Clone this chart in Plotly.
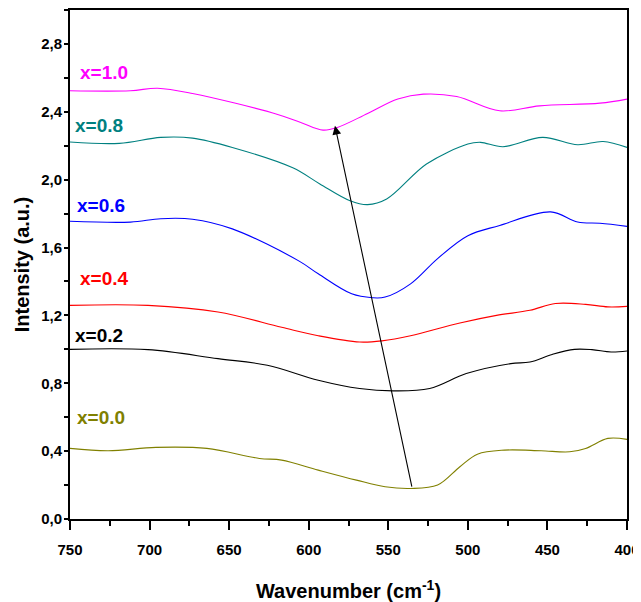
import plotly.graph_objects as go

# ---- data ----
wn_00 = [750, 726, 696, 664, 631, 617, 594, 570, 552, 536, 519, 505, 494, 477, 454, 436, 426, 412, 400]
y_00 = [0.416, 0.402, 0.422, 0.416, 0.357, 0.347, 0.288, 0.229, 0.19, 0.18, 0.2, 0.308, 0.382, 0.406, 0.402, 0.396, 0.416, 0.475, 0.469]

wn_02 = [750, 701, 657, 626, 594, 568, 547, 524, 501, 473, 461, 447, 433, 422, 410, 400]
y_02 = [1.0, 0.998, 0.945, 0.906, 0.818, 0.769, 0.755, 0.769, 0.857, 0.916, 0.925, 0.97, 1.0, 0.998, 0.984, 0.99]

wn_04 = [750, 701, 657, 617, 594, 568, 554, 536, 505, 482, 461, 445, 426, 412, 400]
y_04 = [1.259, 1.259, 1.22, 1.13, 1.08, 1.043, 1.05, 1.08, 1.155, 1.20, 1.23, 1.27, 1.265, 1.25, 1.253]

wn_06 = [750, 712, 693, 673, 648, 606, 594, 573, 560, 552, 536, 519, 500, 480, 448, 431, 417, 400]
y_06 = [1.755, 1.75, 1.77, 1.767, 1.71, 1.52, 1.445, 1.327, 1.304, 1.308, 1.386, 1.535, 1.67, 1.73, 1.81, 1.75, 1.743, 1.725]

wn_08 = [750, 719, 693, 673, 648, 610, 593, 574, 563, 551, 526, 500, 492, 478, 453, 431, 415, 400]
y_08 = [2.222, 2.214, 2.249, 2.245, 2.19, 2.07, 1.975, 1.876, 1.853, 1.886, 2.092, 2.21, 2.22, 2.194, 2.249, 2.206, 2.225, 2.19]

wn_10 = [750, 712, 695, 673, 620, 605, 591, 582, 563, 544, 528, 507, 480, 455, 417, 400]
y_10 = [2.524, 2.524, 2.539, 2.508, 2.386, 2.337, 2.292, 2.308, 2.39, 2.475, 2.504, 2.49, 2.406, 2.435, 2.451, 2.475]

series_names = ["x=0.0", "x=0.2", "x=0.4", "x=0.6", "x=0.8", "x=1.0"]
series_colors = ["#808000", "#000000", "#FF0000", "#0000FF", "#008080", "#FF00FF"]
series_wn = [wn_00, wn_02, wn_04, wn_06, wn_08, wn_10]
series_y = [y_00, y_02, y_04, y_06, y_08, y_10]

# label anchor points (data coordinates)
label_wn = [747, 748, 745, 747, 748, 745]
label_y = [0.60, 1.08, 1.42, 1.85, 2.32, 2.63]

# arrow (tail -> head), data coordinates
arrow_tail = (535, 0.182)
arrow_head = (583.5, 2.318)

y_tickvals = [0.0, 0.4, 0.8, 1.2, 1.6, 2.0, 2.4, 2.8]
y_ticktext = ["0,0", "0,4", "0,8", "1,2", "1,6", "2,0", "2,4", "2,8"]
x_tickvals = [750, 700, 650, 600, 550, 500, 450, 400]

FONT = "Liberation Sans, Arial, sans-serif"

fig = go.Figure()
for name, col, xs, ys in zip(series_names, series_colors, series_wn, series_y):
    fig.add_trace(go.Scatter(x=xs, y=ys, mode="lines", name=name,
                             line=dict(color=col, width=1.1, shape="spline", smoothing=1.0),
                             showlegend=False))

for name, col, lx, ly in zip(series_names, series_colors, label_wn, label_y):
    fig.add_annotation(x=lx, y=ly, xref="x", yref="y", text=name, showarrow=False,
                       xanchor="left", yanchor="middle",
                       font=dict(family=FONT, size=19, color=col, weight="bold"))

fig.add_annotation(x=arrow_head[0], y=arrow_head[1], ax=arrow_tail[0], ay=arrow_tail[1],
                   xref="x", yref="y", axref="x", ayref="y", text="", showarrow=True,
                   arrowhead=2, arrowsize=1.6, arrowwidth=1.1, arrowcolor="black")

fig.update_xaxes(range=[750, 400], tickvals=x_tickvals, ticks="outside", ticklen=9, tickwidth=1.5,
                 tickcolor="black", showline=True, linewidth=2, linecolor="black", mirror=True,
                 showgrid=False, zeroline=False, automargin=False, ticklabeloverflow="allow",
                 minor=dict(ticks="outside", ticklen=5, tickwidth=1.5, tickcolor="black", dtick=25, tick0=400, showgrid=False),
                 tickfont=dict(family=FONT, size=15, color="black", weight="bold"),
                 ticklabelstandoff=7,
                 title=dict(text="Wavenumber (cm<sup>-1</sup>)", standoff=36,
                            font=dict(family=FONT, size=20, color="black", weight="bold")))
fig.update_yaxes(range=[0, 3.0], tickvals=y_tickvals, ticktext=y_ticktext, ticks="",
                 showline=True, linewidth=2, linecolor="black", mirror=True,
                 showgrid=False, zeroline=False, automargin=False,
                 minor=dict(ticks="outside", ticklen=4, tickwidth=1.5, tickcolor="black", dtick=0.2, tick0=0, showgrid=False),
                 tickfont=dict(family=FONT, size=15, color="black", weight="bold"),
                 ticklabelstandoff=3,
                 title=dict(text="Intensity (a.u.)", standoff=6,
                            font=dict(family=FONT, size=20, color="black", weight="bold")))

# the page body has an 8px margin, so the figure is sized/offset to compensate
fig.update_layout(width=633, height=594, margin=dict(l=62, r=14, t=2, b=83),
                  plot_bgcolor="white", paper_bgcolor="white")

fig.write_html("out.html")
